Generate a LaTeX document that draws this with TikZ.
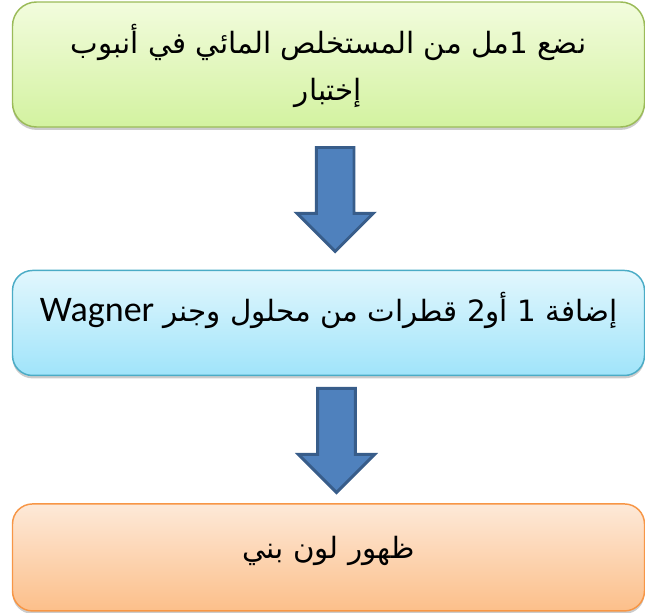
\documentclass[tikz,border=0pt]{standalone}
\usepackage{fontspec}
\setmainfont{DejaVu Sans}
\newfontfamily\arabicfont[Script=Arabic]{DejaVu Sans}
\newfontfamily\latinfont{Carlito}
\TeXXeTstate=1
\usetikzlibrary{shapes.arrows, positioning, shadows}

\definecolor{greentop}{HTML}{F2FCDD}
\definecolor{greenbot}{HTML}{D3F2A0}
\definecolor{greenline}{HTML}{9BBB59}
\definecolor{bluetop}{HTML}{E2F7FD}
\definecolor{bluebot}{HTML}{A0E4FA}
\definecolor{blueline}{HTML}{4BACC6}
\definecolor{orangetop}{HTML}{FDE9D8}
\definecolor{orangebot}{HTML}{FCBF8A}
\definecolor{orangeline}{HTML}{F79646}
\definecolor{arrowfill}{HTML}{4F81BD}
\definecolor{arrowline}{HTML}{385D8A}

\begin{document}
\begin{tikzpicture}[
    x=0.75pt, y=-0.75pt,
    stepbox/.style={rectangle, rounded corners=15pt, draw, line width=1.1pt, align=center, minimum width=474pt,
        font=\arabicfont\fontsize{22}{35}\selectfont,
        drop shadow={shadow xshift=0pt, shadow yshift=-2.2pt, opacity=0.4}},
    greenbox/.style={stepbox, draw=greenline, top color=greentop, bottom color=greenbot, minimum height=93.75pt, rounded corners=18pt},
    bluebox/.style={stepbox, draw=blueline, top color=bluetop, bottom color=bluebot, minimum height=78.75pt},
    orangebox/.style={stepbox, draw=orangeline, top color=orangetop, bottom color=orangebot, minimum height=80.25pt},
    blockarrow/.style={single arrow, draw=arrowline, fill=arrowfill, line width=2.2pt, inner sep=13pt,
        minimum width=56pt, minimum height=78pt, single arrow head extend=14.5pt, single arrow tip angle=90,
        shape border rotate=270, yshift=6.5pt}
]
\useasboundingbox (0,0) rectangle (645,612);

% Step 1: sample
\node[greenbox, text height=60pt, text depth=6.75pt] (sample) at (328.5,64.5) {\beginR نضع 1مل من المستخلص المائي في أنبوب\endR\\\beginR إختبار\endR};

% Step 2: reagent
\node[bluebox, text height=16pt, text depth=18pt, below=106.5pt of sample] (reagent) {\beginR إضافة 1 أو2 قطرات من محلول وجنر {\latinfont\fontsize{27}{35}\selectfont\beginL Wagner\endL}\endR};

% Result
\node[orangebox, text height=16pt, text depth=15pt, below=95.25pt of reagent] (result) {\beginR ظهور لون بني\endR};

% Arrows
\path (sample) -- node[blockarrow, xshift=5pt] (arrA) {} (reagent);
\path (reagent) -- node[blockarrow, xshift=6pt] (arrB) {} (result);

\end{tikzpicture}
\end{document}
